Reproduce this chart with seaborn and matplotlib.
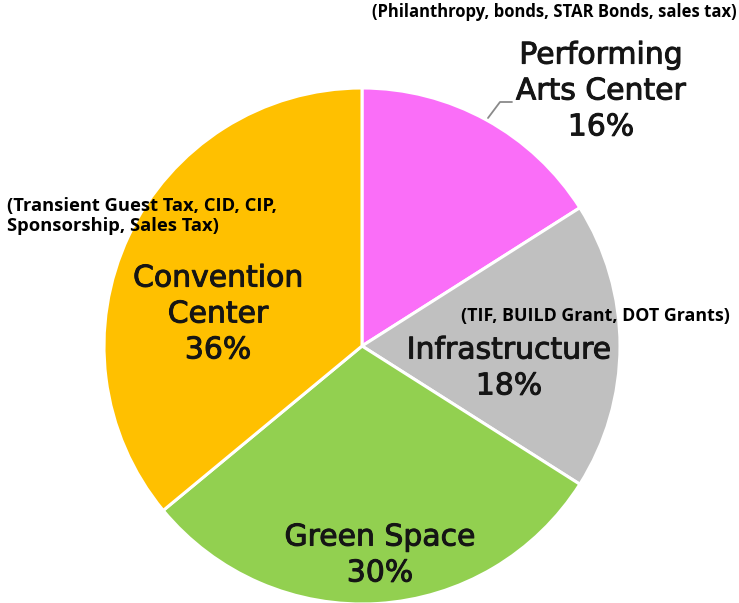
import matplotlib
matplotlib.use("Agg")
import matplotlib.pyplot as plt
import matplotlib.patheffects as pe
import seaborn as sns

categories = ["Performing\nArts Center", "Infrastructure", "Green Space", "Convention\nCenter"]
shares = [16, 18, 30, 36]
sources = ["(Philanthropy, bonds, STAR Bonds, sales tax)",
           "(TIF, BUILD Grant, DOT Grants)",
           None,
           "(Transient Guest Tax, CID, CIP,\nSponsorship, Sales Tax)"]
colors = ["#FA6EF8", "#C0C0C0", "#92D050", "#FFC000"]

sns.set_theme(style="white")
plt.rcParams['font.family'] = ['DejaVu Sans']

W, H = 739, 603
fig = plt.figure(figsize=(W / 100, H / 100), dpi=100)
ax = fig.add_axes([0, 0, 1, 1])

cx, cy, r = 362, H - 346, 258
wedges, _ = ax.pie(shares, colors=colors, startangle=90, counterclock=False,
                   center=(cx, cy), radius=r,
                   wedgeprops=dict(edgecolor="white", linewidth=2.2))
ax.set_xlim(0, W)
ax.set_ylim(0, H)
ax.set_aspect("equal")
ax.axis("off")

lab_fs = 21.5
stroke = [pe.withStroke(linewidth=0.7, foreground="#151515")]
def lab(x, y, s):
    ax.text(x, H - y, s, ha="center", va="center", fontsize=lab_fs,
            color="#151515", linespacing=1.3, path_effects=stroke)

lab(601, 91, f"{categories[0]}\n{shares[0]}%")
lab(509, 368, f"{categories[1]}\n{shares[1]}%")
lab(380, 555, f"{categories[2]}\n{shares[2]}%")
lab(218, 314, f"{categories[3]}\n{shares[3]}%")

# leader line for Performing Arts Center
ax.plot([488, 500, 512], [H - 118, H - 102, H - 102], color="#8a8a8a", lw=1.3)

src_fam = ["Open Sans", "DejaVu Sans"]
ax.text(737, H - 12, sources[0], ha="right", va="center", fontsize=12.0,
        fontweight="bold", color="black", family=src_fam)
ax.text(461, H - 316, sources[1], ha="left", va="center", fontsize=12.9,
        fontweight="bold", color="black", family=src_fam)
ax.text(7, H - 216, sources[3], ha="left", va="center", fontsize=13.2,
        fontweight="bold", color="black", family=src_fam, linespacing=1.2)

fig.savefig("out.png", dpi=100)
